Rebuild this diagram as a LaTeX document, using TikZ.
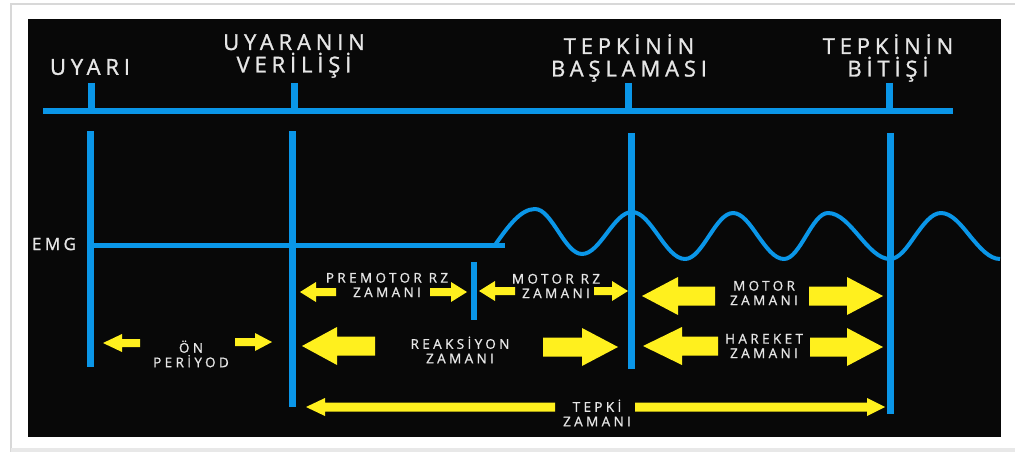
\documentclass[tikz,border=0pt]{standalone}
\usepackage{fontspec}
\newfontfamily\biglbl[LetterSpace=22, FakeBold=1.2]{Open Sans}
\newfontfamily\smalllbl[LetterSpace=25, FakeBold=1]{Open Sans}
\newfontfamily\emglbl[LetterSpace=20, FakeBold=1]{Open Sans}
\definecolor{bgblack}{HTML}{080808}
\definecolor{tblue}{HTML}{0A96E8}
\definecolor{tyellow}{HTML}{FFF01E}
\definecolor{ttext}{HTML}{E6E6E6}
\definecolor{frame}{HTML}{D8D8D8}
\newcommand\blockarrow[6]{%
  \fill[tyellow] (#1,#4) -- (#2,#4-#5) -- (#2,#4-#6) -- (#3,#4-#6) -- (#3,#4+#6) -- (#2,#4+#6) -- (#2,#4+#5) -- cycle;}
\tikzset{
  bigtext/.style={text=ttext, font=\biglbl\fontsize{22}{22.5}\selectfont, align=center, inner sep=0pt},
  smalltext/.style={text=ttext, font=\smalllbl\fontsize{13.5}{14.5}\selectfont, align=center, inner sep=0pt},
  bluev/.style={draw=tblue, line width=7pt},
  bluel/.style={draw=tblue, line width=5.5pt},
  wave/.style={draw=tblue, line width=4pt, line join=round},
}
\begin{document}
\begin{tikzpicture}[x=1pt,y=-1pt]
\useasboundingbox (0,0) rectangle (1015,452);
\fill[white] (0,0) rectangle (1015,452);
% frame
\draw[frame, line width=1.5pt] (11,452) -- (11,4) -- (1015,4);
\fill[frame!60] (11,448) rectangle (1015,452);
% black panel
\fill[bgblack] (28,19) rectangle (1001,437);
% timeline
\draw[bluel] (43,111) -- (953,111);
\foreach \x in {91,294,628,889} \draw[bluev] (\x,83) -- (\x,111);
% verticals
\draw[bluev] (90,131) -- (90,367);
\draw[bluev] (292,131) -- (292,407);
\draw[bluev] (631,133) -- (631,369);
\draw[bluev] (890,133) -- (890,414);
\draw[draw=tblue, line width=6pt] (474,262) -- (474,320);
% EMG
\draw[draw=tblue, line width=5pt] (90,245) -- (505,245);
\draw[wave] (495,245) sin (535,209) cos (558,231) sin (582,254) cos (607,233) sin (632,212)
  cos (658,235) sin (685,259) cos (709,236) sin (733,213) cos (758,236) sin (784,259)
  cos (806,236) sin (828,213) cos (859,236) sin (890,259) cos (915,236) sin (941,213)
  cos (970,236) sin (1000,259);
% labels top
\node[bigtext] (uyari) at (90,67) {UYARI};
\node[bigtext] (verilis) at (294,56) {UYARANIN\\VERİLİŞİ};
\node[bigtext] (basla) at (629,58) {TEPKİNİN\\BAŞLAMASI};
\node[bigtext] (bitis) at (888,58) {TEPKİNİN\\BİTİŞİ};
\node[text=ttext, font=\emglbl\fontsize{17}{18}\selectfont, inner sep=0pt] (emg) at (54,244) {EMG};
% arrows
\blockarrow{300}{316}{336}{292}{10}{4}
\blockarrow{467}{451}{430}{292}{10}{4}
\blockarrow{479}{495}{515}{291}{10}{4}
\blockarrow{628}{612}{594}{291}{10}{4}
\blockarrow{642}{678}{715}{296}{19}{9.5}
\blockarrow{883}{847}{809}{296}{19}{9.5}
\blockarrow{103}{122}{140}{343}{9}{4}
\blockarrow{272}{255}{235}{342}{9}{4}
\blockarrow{302}{337}{375}{346}{19}{9.5}
\blockarrow{618}{582}{543}{347}{19}{9.5}
\blockarrow{643}{682}{718}{346}{19}{9.5}
\blockarrow{883}{847}{810}{347}{19}{9.5}
\blockarrow{306}{325}{555}{407}{9}{4.5}
\blockarrow{885}{867}{635}{407}{9}{4.5}
% small labels
\node[smalltext] (premotor) at (387,285) {PREMOTOR RZ\\ZAMANI};
\node[smalltext] (motorrz) at (556,286) {MOTOR RZ\\ZAMANI};
\node[smalltext] (motor) at (764,293) {MOTOR\\ZAMANI};
\node[smalltext] (on) at (191,354) {ÖN\\PERİYOD};
\node[smalltext] (reaksiyon) at (460,350) {REAKSİYON\\ZAMANI};
\node[smalltext] (hareket) at (764,346) {HAREKET\\ZAMANI};
\node[smalltext] (tepki) at (597,413) {TEPKİ\\ZAMANI};
\end{tikzpicture}
\end{document}
